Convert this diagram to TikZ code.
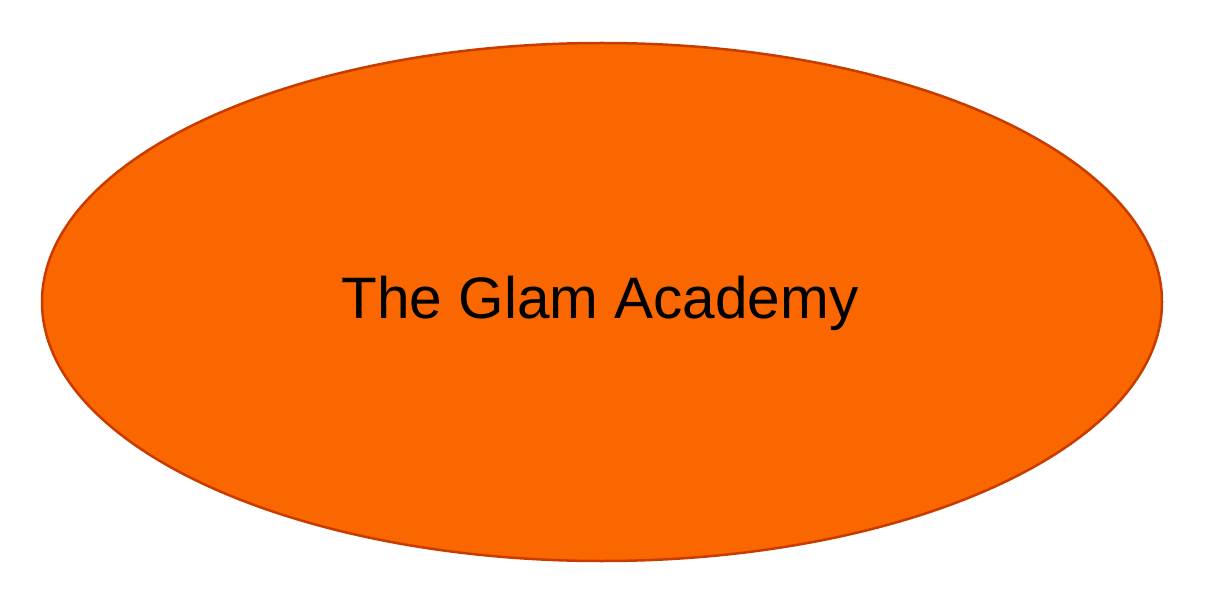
\documentclass[tikz,border=0pt]{standalone}
\usepackage{fontspec}
\setmainfont{Liberation Sans}
\usetikzlibrary{shapes.geometric}
\definecolor{glamfill}{HTML}{FA6600}
\definecolor{glamline}{HTML}{C83C00}
\begin{document}
\begin{tikzpicture}[x=1pt,y=-1pt]
    \useasboundingbox (0,0) rectangle (1208,604);
    % academy
    \node [ellipse, draw=glamline, fill=glamfill, line width=2.5pt, inner sep=0pt,
           minimum width=1120pt, minimum height=518pt, name=a1] at (602,302) {};
    \node [draw=none, align=center, font=\fontsize{58.5}{70}\selectfont, name=a2] at (600,303) {The Glam Academy};
\end{tikzpicture}
\end{document}
